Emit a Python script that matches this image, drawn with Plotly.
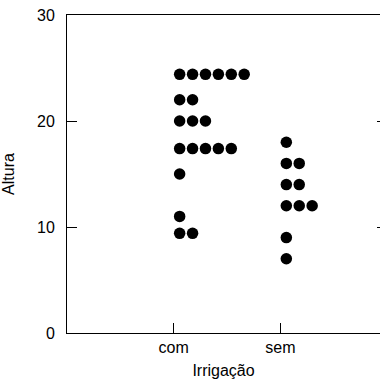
import plotly.graph_objects as go
from collections import Counter

# Data (stacked strip chart)
groups = ["com", "sem"]
altura_com = [24.4]*6 + [22]*2 + [20]*3 + [17.4]*5 + [15] + [11] + [9.4]*2
altura_sem = [18] + [16]*2 + [14]*2 + [12]*3 + [9] + [7]
y_ticks = [0, 10, 20, 30]

# stacking parameters (in x-axis units)
first_off = 0.056
step = 0.121

def stack(values, pos):
    xs, ys = [], []
    seen = Counter()
    for v in values:
        xs.append(pos + first_off + seen[v] * step)
        ys.append(v)
        seen[v] += 1
    return xs, ys

fig = go.Figure()
for i, vals in enumerate([altura_com, altura_sem], start=1):
    xs, ys = stack(vals, i)
    fig.add_trace(go.Scatter(x=xs, y=ys, mode="markers",
                             marker=dict(color="black", size=11.5, line=dict(width=0)),
                             showlegend=False, hoverinfo="skip"))
# invisible trace to activate the right-hand tick axis
fig.add_trace(go.Scatter(x=[None], y=[None], yaxis="y2", showlegend=False, hoverinfo="skip"))

font = dict(family="Liberation Sans, Arial, sans-serif", size=16, color="black")
axis_common = dict(showline=True, linecolor="black", linewidth=1, automargin=False,
                   ticks="inside", ticklen=10, tickcolor="black", tickwidth=1,
                   showgrid=False, zeroline=False, tickfont=font)

fig.update_layout(
    width=380, height=383, autosize=False,
    margin=dict(l=67, r=0, t=15, b=50),
    paper_bgcolor="white", plot_bgcolor="white",
    font=font,
    xaxis=dict(range=[0, 2.934], tickvals=[1, 2], ticktext=groups, mirror=True,
               title=dict(text="Irrigação", font=font, standoff=9), **axis_common),
    yaxis=dict(range=[0, 30], tickvals=y_ticks, ticklabelstandoff=8, mirror=False,
               title=dict(text="Altura", font=font, standoff=18), **axis_common),
    yaxis2=dict(range=[0, 30], tickvals=y_ticks, overlaying="y", side="right",
                showline=False, showticklabels=False, ticks="inside", ticklen=3,
                automargin=False, tickcolor="black", tickwidth=1,
                showgrid=False, zeroline=False),
)

fig.write_html("out.html",
               config={"displayModeBar": False, "responsive": False},
               post_script="document.body.style.margin='0';document.body.style.overflow='hidden';")
